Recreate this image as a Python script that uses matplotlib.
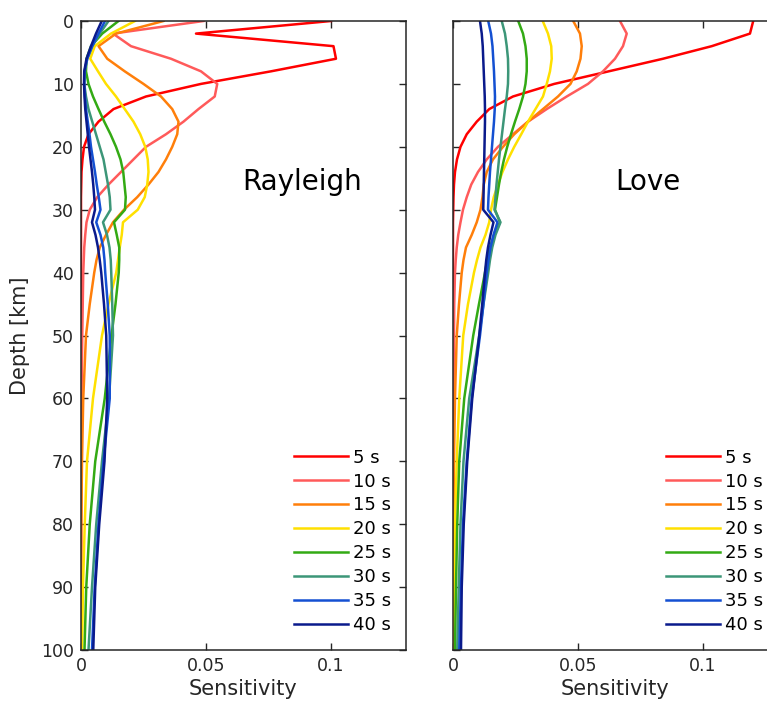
import numpy as np
import matplotlib
matplotlib.use("Agg")
import matplotlib.pyplot as plt

plt.rcParams['font.family'] = ['DejaVu Sans']

# depth grid (km)
depth = [0, 2, 4, 6, 8, 10, 12, 14, 16, 18, 20, 22, 24, 26, 28, 30, 32, 34, 36, 38, 40,
         45, 50, 60, 70, 80, 90, 100]

periods = ['5 s', '10 s', '15 s', '20 s', '25 s', '30 s', '35 s', '40 s']
colors = ['#ff0000', '#ff5a5a', '#ff7f0a', '#ffe000', '#33aa14', '#3c9678', '#1450d2', '#0a1a8c']

# Rayleigh sensitivity kernels
ray_5 = [0.100, 0.046, 0.101, 0.102, 0.076, 0.048, 0.026, 0.013, 0.007, 0.003, 0.0012, 0.0006,
         0.0002, 0.0001, 0, 0, 0, 0, 0, 0, 0, 0, 0, 0, 0, 0, 0, 0]
ray_10 = [0.049, 0.0128, 0.020, 0.036, 0.048, 0.0545, 0.0535, 0.047, 0.041, 0.034, 0.026, 0.021,
          0.016, 0.011, 0.0065, 0.0035, 0.0022, 0.0017, 0.0013, 0.0011, 0.0009, 0.0007, 0.0005,
          0.0002, 0.0001, 0, 0, 0]
ray_15 = [0.033, 0.014, 0.007, 0.0105, 0.0175, 0.025, 0.032, 0.0365, 0.039, 0.0385, 0.0365, 0.034,
          0.031, 0.027, 0.0225, 0.0172, 0.0128, 0.010, 0.0075, 0.0062, 0.0053, 0.0035, 0.0020,
          0.0009, 0.0004, 0.0001, 0, 0]
ray_20 = [0.0216, 0.012, 0.0055, 0.0037, 0.0068, 0.010, 0.014, 0.0175, 0.021, 0.0237, 0.0257,
          0.0267, 0.027, 0.0265, 0.0255, 0.0227, 0.0168, 0.0163, 0.0155, 0.0148, 0.0141, 0.011,
          0.0084, 0.0048, 0.0024, 0.0015, 0.0008, 0.0004]
ray_25 = [0.015, 0.0085, 0.004, 0.0022, 0.002, 0.003, 0.0048, 0.007, 0.0093, 0.0118, 0.014, 0.0158,
          0.0169, 0.0174, 0.0179, 0.0176, 0.0132, 0.0143, 0.0153, 0.0153, 0.0151, 0.0138, 0.0122,
          0.0095, 0.0057, 0.0035, 0.0021, 0.0014]
ray_30 = [0.011, 0.0075, 0.0045, 0.0025, 0.0015, 0.0013, 0.002, 0.003, 0.0045, 0.006, 0.0075,
          0.009, 0.0099, 0.0108, 0.0115, 0.0118, 0.0088, 0.0104, 0.0114, 0.0119, 0.0121, 0.0125,
          0.0128, 0.0112, 0.0084, 0.0061, 0.0044, 0.003]
ray_35 = [0.0096, 0.007, 0.0045, 0.0025, 0.0014, 0.0013, 0.0016, 0.002, 0.0027, 0.0034, 0.004,
          0.0048, 0.0056, 0.0063, 0.0071, 0.0078, 0.0061, 0.0078, 0.0089, 0.0094, 0.0097, 0.0107,
          0.0115, 0.0115, 0.009, 0.007, 0.0055, 0.0044]
ray_40 = [0.0083, 0.006, 0.004, 0.0022, 0.0013, 0.0012, 0.0014, 0.0017, 0.0022, 0.0027, 0.0032,
          0.0038, 0.0044, 0.0049, 0.0053, 0.0056, 0.0044, 0.0058, 0.0068, 0.0075, 0.0081, 0.0092,
          0.0101, 0.0105, 0.0094, 0.0073, 0.0057, 0.0049]

# Love sensitivity kernels
love_5 = [0.1201, 0.1188, 0.1035, 0.084, 0.0623, 0.0405, 0.024, 0.0145, 0.0095, 0.0055, 0.003,
          0.0016, 0.0008, 0.0004, 0.0002, 0.0001, 0, 0, 0, 0, 0, 0, 0, 0, 0, 0, 0, 0]
love_10 = [0.0668, 0.0695, 0.068, 0.0648, 0.060, 0.054, 0.0455, 0.0375, 0.030, 0.024, 0.018,
           0.0135, 0.010, 0.0073, 0.0055, 0.004, 0.003, 0.0021, 0.0015, 0.0011, 0.0008, 0.0005,
           0.0004, 0.0002, 0.0001, 0, 0, 0]
love_15 = [0.0481, 0.0508, 0.0515, 0.051, 0.0495, 0.047, 0.042, 0.036, 0.030, 0.0245, 0.020,
           0.016, 0.0135, 0.0123, 0.0118, 0.011, 0.0095, 0.0075, 0.0052, 0.0042, 0.0035, 0.0024,
           0.0015, 0.0008, 0.0004, 0.0002, 0.0001, 0]
love_20 = [0.0359, 0.038, 0.0393, 0.0395, 0.0388, 0.0375, 0.036, 0.033, 0.030, 0.0273, 0.0245,
           0.022, 0.0198, 0.018, 0.0163, 0.0152, 0.0145, 0.013, 0.011, 0.0096, 0.0084, 0.006,
           0.0041, 0.0025, 0.0015, 0.0008, 0.0004, 0.0001]
love_25 = [0.0261, 0.028, 0.029, 0.0295, 0.0295, 0.029, 0.028, 0.0265, 0.0248, 0.0232, 0.0217,
           0.0204, 0.0193, 0.0184, 0.0176, 0.0168, 0.0188, 0.0165, 0.0148, 0.0137, 0.0128, 0.0104,
           0.0081, 0.0045, 0.0025, 0.0017, 0.0012, 0.0008]
love_30 = [0.0195, 0.0208, 0.0215, 0.022, 0.0221, 0.022, 0.0215, 0.0208, 0.0202, 0.0196, 0.019,
           0.0184, 0.0179, 0.0174, 0.017, 0.0166, 0.019, 0.017, 0.0157, 0.0148, 0.0141, 0.0122,
           0.0105, 0.0065, 0.0042, 0.003, 0.0023, 0.0017]
love_35 = [0.0141, 0.0152, 0.0158, 0.0161, 0.0164, 0.0166, 0.0168, 0.0167, 0.0164, 0.016, 0.0156,
           0.0152, 0.0148, 0.0145, 0.0142, 0.014, 0.0178, 0.0162, 0.015, 0.0142, 0.0135, 0.0122,
           0.0108, 0.0075, 0.0055, 0.004, 0.0032, 0.0025]
love_40 = [0.0108, 0.0115, 0.0119, 0.0121, 0.0123, 0.0125, 0.0127, 0.0128, 0.0128, 0.0127, 0.0126,
           0.0125, 0.0124, 0.0123, 0.0122, 0.0121, 0.0162, 0.015, 0.014, 0.0133, 0.0128, 0.0117,
           0.0105, 0.0077, 0.0057, 0.0043, 0.0035, 0.0032]

rayleigh = [ray_5, ray_10, ray_15, ray_20, ray_25, ray_30, ray_35, ray_40]
love = [love_5, love_10, love_15, love_20, love_25, love_30, love_35, love_40]

fig = plt.figure(figsize=(7.67, 7.05), dpi=100)
ax1 = fig.add_axes([0.1056, 0.078, 0.4237, 0.8922])
# right panel runs past the figure edge, as in the original crop
ax2 = fig.add_axes([0.5906, 0.078, 0.4237, 0.8922])

for ax, curves, name, tx in [(ax1, rayleigh, 'Rayleigh', 0.68), (ax2, love, 'Love', 0.60)]:
    for vals, c, lab in zip(curves, colors, periods):
        ax.plot(vals, depth, color=c, lw=1.8, label=lab)
    ax.set_xlim(0, 0.13)
    ax.set_ylim(100, 0)
    ax.set_xticks([0, 0.05, 0.1])
    ax.set_xticklabels(['0', '0.05', '0.1'])
    ax.set_yticks(np.arange(0, 101, 10))
    ax.tick_params(direction='in', top=True, right=True, length=5, width=1,
                   color='#262626', labelsize=12.5, labelcolor='#262626', pad=5)
    for sp in ax.spines.values():
        sp.set_color('#262626')
        sp.set_linewidth(1.1)
    ax.set_xlabel('Sensitivity', fontsize=15, color='#262626', labelpad=3)
    ax.text(tx, 0.744, name, transform=ax.transAxes, ha='center', va='center',
            fontsize=20, color='black')
    ax.legend(loc='lower right', bbox_to_anchor=(0.955, 0.025), frameon=False,
              fontsize=13, handlelength=3.0, handletextpad=0.3, labelspacing=0.33,
              borderaxespad=0, borderpad=0)

ax1.set_ylabel('Depth [km]', fontsize=15, color='#262626', labelpad=8)
ax2.tick_params(labelleft=False)

fig.savefig('out.png', dpi=100)
